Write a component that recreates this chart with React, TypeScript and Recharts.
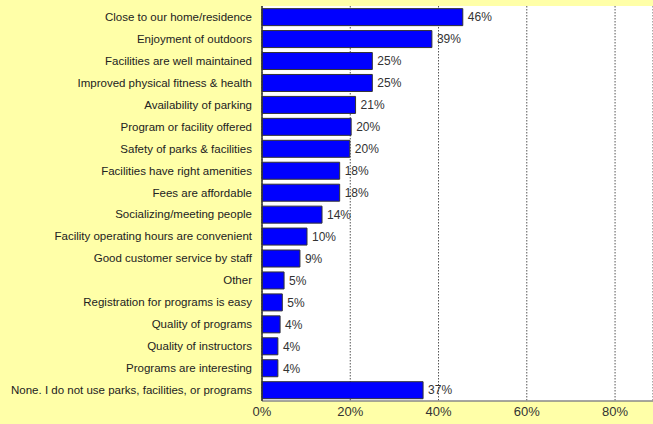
import React from 'react';
import { BarChart, Bar, XAxis, YAxis, CartesianGrid, LabelList } from 'recharts';

const categories = [
  'Close to our home/residence',
  'Enjoyment of outdoors',
  'Facilities are well maintained',
  'Improved physical fitness & health',
  'Availability of parking',
  'Program or facility offered',
  'Safety of parks & facilities',
  'Facilities have right amenities',
  'Fees are affordable',
  'Socializing/meeting people',
  'Facility operating hours are convenient',
  'Good customer service by staff',
  'Other',
  'Registration for programs is easy',
  'Quality of programs',
  'Quality of instructors',
  'Programs are interesting',
  'None. I do not use parks, facilities, or programs',
];

const values = [45.5, 38.5, 25, 25, 21.2, 20.2, 19.9, 17.6, 17.6, 13.6, 10.2, 8.6, 5, 4.6, 4.1, 3.6, 3.6, 36.5];

const xTicks = [0, 20, 40, 60, 80];

const data = categories.map((name, i) => ({ name, value: values[i] }));

const FONT = '"Liberation Sans", Arial, Helvetica, sans-serif';

const CategoryTick = (props: any) => {
  const { x, y, payload } = props;
  return (
    <text x={x} y={y} dy="0.35em" textAnchor="end" fill="#222" fontSize={11.5} fontFamily={FONT}>
      {payload.value}
    </text>
  );
};

export default function App() {
  return (
    <div style={{ position: 'absolute', left: 0, top: 0, width: 653, height: 424, background: '#FFFFA8', overflow: 'hidden' }}>
      <BarChart
        width={653}
        height={424}
        data={data}
        layout="vertical"
        margin={{ top: 6, right: 0, bottom: 3, left: 0 }}
        barCategoryGap="12%"
      >
        <CartesianGrid horizontal={false} vertical={true} stroke="#555" strokeDasharray="1.5 1.5" fill="#FFFFFF" />
        <XAxis
          type="number"
          dataKey="value"
          domain={[0, 88.6]}
          ticks={xTicks}
          tickFormatter={(v: number) => `${v}%`}
          tickLine={false}
          tickSize={0}
          tickMargin={6}
          height={20}
          axisLine={{ stroke: '#888', strokeWidth: 1.5 }}
          tick={{ fill: '#333', fontSize: 13, fontFamily: FONT }}
          interval={0}
        />
        <XAxis
          xAxisId="top"
          orientation="top"
          type="number"
          domain={[0, 88.6]}
          tick={false}
          tickLine={false}
          height={0}
          axisLine={{ stroke: '#333', strokeWidth: 1.5 }}
        />
        <YAxis
          type="category"
          dataKey="name"
          width={262}
          tickLine={false}
          tickSize={0}
          tickMargin={10}
          interval={0}
          axisLine={{ stroke: '#333', strokeWidth: 1.5 }}
          tick={<CategoryTick />}
        />
        <Bar dataKey="value" fill="#0000FF" stroke="#333" strokeWidth={1} isAnimationActive={false}>
          <LabelList
            dataKey="value"
            position="right"
            offset={5}
            formatter={(v: number) => `${Math.round(v)}%`}
            style={{ fill: '#333', fontSize: 12, fontFamily: FONT }}
          />
        </Bar>
      </BarChart>
    </div>
  );
}
